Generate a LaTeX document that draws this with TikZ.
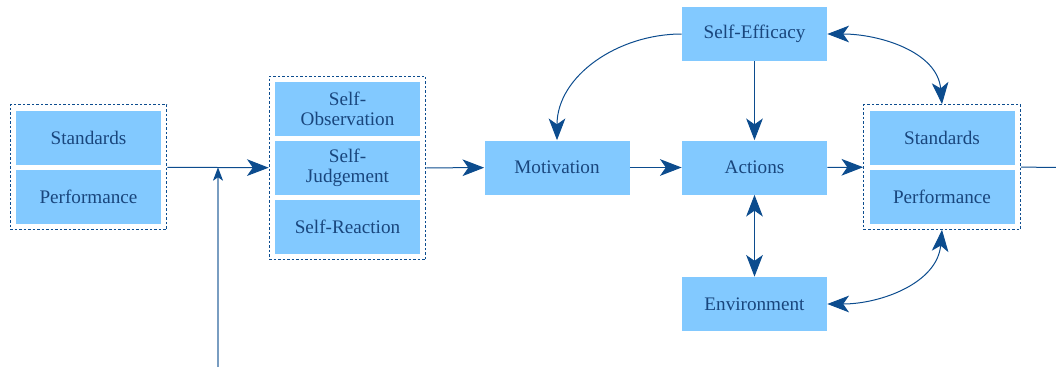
\documentclass[tikz,border=0pt]{standalone}
\usepackage{fontspec}
\setmainfont{Liberation Serif}
\newfontfamily\boxfont{Liberation Serif}
\usetikzlibrary{positioning,fit,arrows.meta}
\definecolor{boxblue}{RGB}{130,201,255}
\definecolor{inkblue}{RGB}{12,76,142}
\definecolor{txtblue}{RGB}{25,70,125}
\begin{document}
\begin{tikzpicture}[x=0.6pt,y=-0.6pt,
	blk/.style={fill=boxblue,text=txtblue,minimum width=87pt,minimum height=32.4pt,inner sep=1pt,align=center,font=\boxfont\fontsize{11.5}{12}\selectfont},
	grp/.style={draw=inkblue,line width=0.6pt,dash pattern=on 1.5pt off 1.2pt,inner sep=3.3pt},
	tip/.style={-{Stealth[length=13pt,width=10pt,inset=3.5pt]}},
	link/.style={draw=inkblue,line width=0.6pt,tip},
	both/.style={link,{Stealth[length=13pt,width=10pt,inset=3.5pt]}-{Stealth[length=13pt,width=10pt,inset=3.5pt]}}]

	\useasboundingbox (0,0) rectangle (1056,367);

	\node[blk] (stdA) at (88.5,137.5) {Standards};
	\node[blk] (perfA) [below of=stdA, node distance=35.4pt] {Performance};
	\node[grp, fit=(stdA)(perfA)] (grpA) {};

	\node[blk] (obs) at (347.5,109) {Self-\\Observation};
	\node[blk] (judge) [below of=obs, node distance=35.4pt] {Self-\\Judgement};
	\node[blk] (react) [below of=judge, node distance=35.4pt] {Self-Reaction};
	\node[grp, fit=(obs)(react)] (grpB) {};

	\node[blk] (motiv) at (557,167.5) {Motivation};
	\node[blk] (act) [right of=motiv, node distance=118.5pt] {Actions};
	\node[blk] (eff) [above of=act, node distance=80.1pt] {Self-Efficacy};
	\node[blk] (env) [below of=act, node distance=81.9pt] {Environment};

	\node[blk] (stdB) at (942,137.5) {Standards};
	\node[blk] (perfB) [below of=stdB, node distance=35.4pt] {Performance};
	\node[grp, fit=(stdB)(perfB)] (grpC) {};

	\coordinate (src) at (218,367);
	\coordinate (join) at (218,167.3);
	\coordinate (exit) at (1056,167.3);

	\draw[link] (grpA) -- (grpB);
	\draw[draw=inkblue!55, line width=0.8pt, -{Stealth[length=8pt,width=6pt,inset=2pt,color=inkblue]}] (src) -- (join);
	\draw[link] (grpB) -- (motiv);
	\draw[link] (motiv) -- (act);
	\draw[link] (act) -- (grpC);
	\draw[link] (eff) -- (act);
	\draw[link] (eff.west) to [out=180, in=90] (motiv.north);
	\draw[draw=inkblue, line width=0.6pt] (grpC) -- (exit);

	\draw[both] (eff.east) to [out=0, in=95] (grpC.north);
	\draw[both] (act) -- (env);
	\draw[both] (env.east) to [out=0, in=-95] (grpC.south);

\end{tikzpicture}
\end{document}
